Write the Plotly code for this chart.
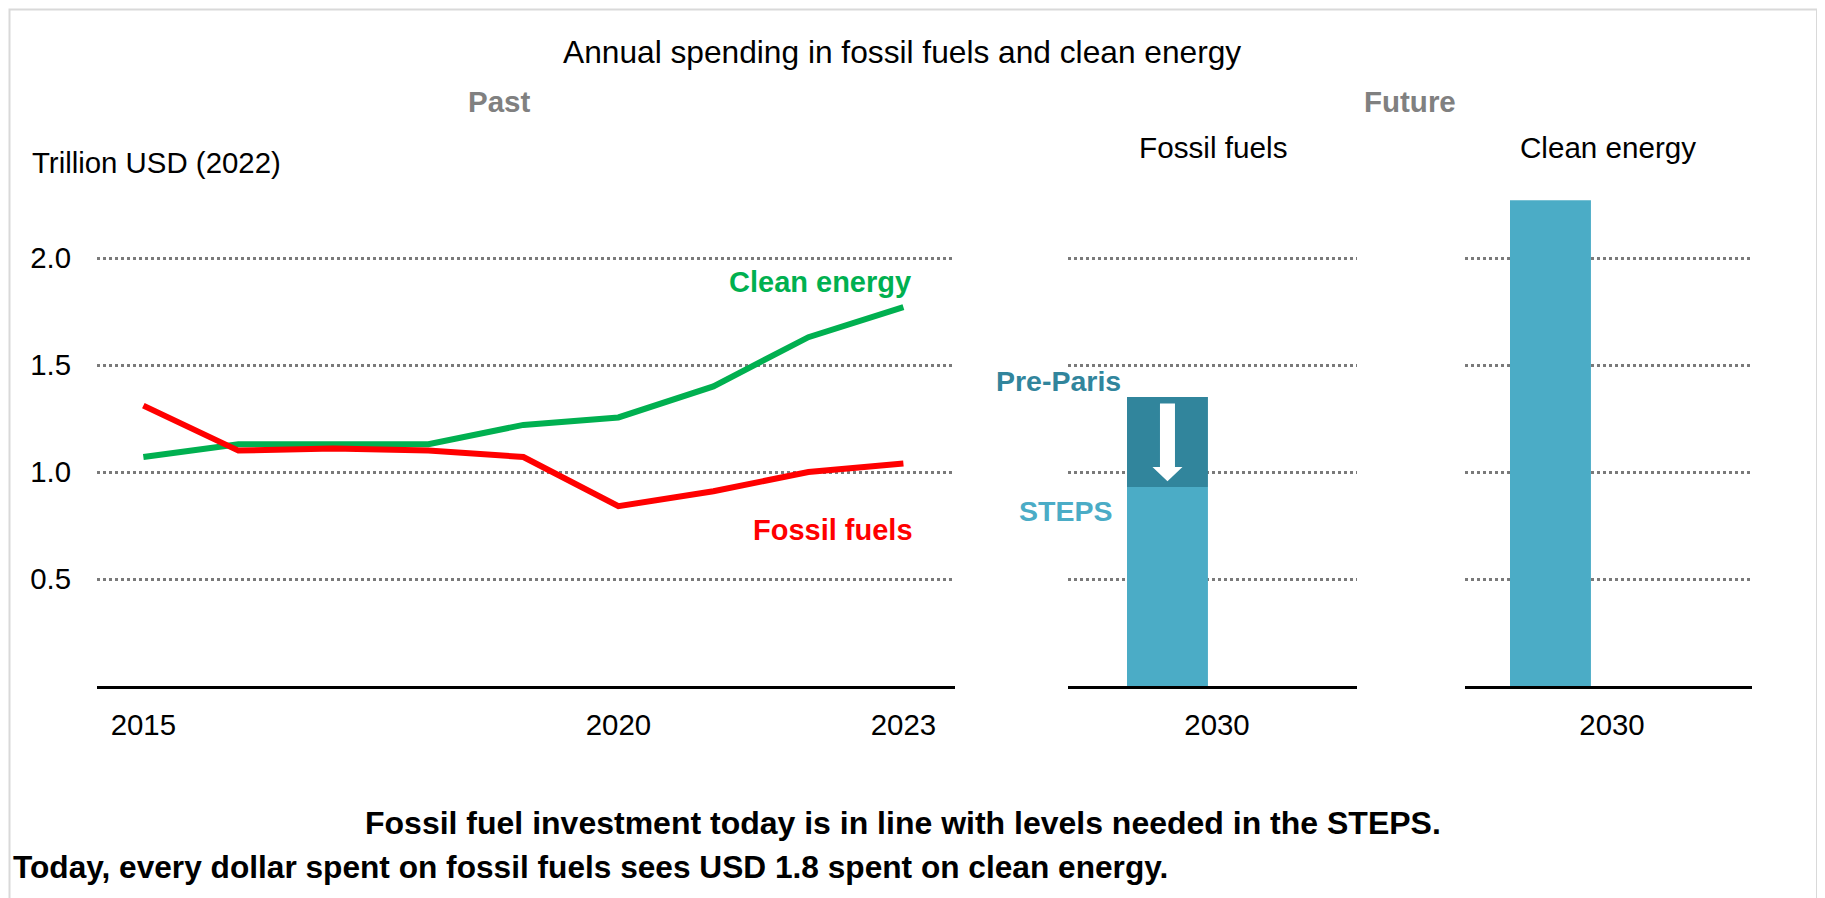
import plotly.graph_objects as go

# ---------------- data ----------------
years = [2015, 2016, 2017, 2018, 2019, 2020, 2021, 2022, 2023]
clean_energy = [1.07, 1.13, 1.13, 1.13, 1.22, 1.255, 1.40, 1.63, 1.77]
fossil_fuels = [1.31, 1.10, 1.11, 1.10, 1.07, 0.84, 0.91, 1.00, 1.04]
past_ticks = [2015, 2020, 2023]

future_year = [2030]
fossil_2030_steps = [0.93]
fossil_2030_pre_paris = [1.35]
clean_2030 = [2.27]

y_ticks = [0.5, 1.0, 1.5, 2.0]
y_tick_text = ["0.5", "1.0", "1.5", "2.0"]

# ---------------- style ----------------
PAGE_OFF = 8          # default body margin of the html page
W, H = 1825 - PAGE_OFF, 898 - PAGE_OFF
FONT = "Liberation Sans, Arial, Helvetica, sans-serif"
GREEN = "#00B050"
RED = "#FF0000"
STEPS_C = "#4BACC6"
PRE_C = "#31859C"
GRID_C = "#7A7A7A"
GRAY_T = "#808080"


def px_x(p):
    return (p - PAGE_OFF) / W


def px_y(p):
    return 1 - (p - PAGE_OFF) / H


y_dom = [px_y(686), px_y(686 - 2.3 * 214.0)]
dom_past = [px_x(97), px_x(955)]
dom_ff = [px_x(1068), px_x(1357)]
dom_ce = [px_x(1465), px_x(1752)]

fig = go.Figure()

# past lines
fig.add_trace(go.Scatter(x=years, y=clean_energy, mode="lines",
                         line=dict(color=GREEN, width=6), xaxis="x", yaxis="y",
                         name="Clean energy", showlegend=False))
fig.add_trace(go.Scatter(x=years, y=fossil_fuels, mode="lines",
                         line=dict(color=RED, width=6), xaxis="x", yaxis="y",
                         name="Fossil fuels", showlegend=False))

# future fossil fuels bar (STEPS + Pre-Paris top)
ff_shift = -4.5 / 289
ff_off, ff_w = -0.3114, 0.280
fig.add_trace(go.Bar(x=future_year, y=fossil_2030_steps, offset=ff_off, width=ff_w,
                     marker=dict(color=STEPS_C, line=dict(width=0)),
                     xaxis="x2", yaxis="y2", name="STEPS", showlegend=False))
pre_delta = [p - s for p, s in zip(fossil_2030_pre_paris, fossil_2030_steps)]
fig.add_trace(go.Bar(x=future_year, y=pre_delta, base=fossil_2030_steps,
                     offset=ff_off, width=ff_w,
                     marker=dict(color=PRE_C, line=dict(width=0)),
                     xaxis="x2", yaxis="y2", name="Pre-Paris", showlegend=False))

# future clean energy bar
ce_shift = -3.5 / 287
ce_off, ce_w = -0.3554, 0.282
fig.add_trace(go.Bar(x=future_year, y=clean_2030, offset=ce_off, width=ce_w,
                     marker=dict(color=STEPS_C, line=dict(width=0)),
                     xaxis="x3", yaxis="y3", name="Clean energy 2030", showlegend=False))

tickfont = dict(family=FONT, size=29.4, color="black")


def yax(**kw):
    d = dict(domain=y_dom, range=[0, 2.3], tickvals=y_ticks, showgrid=True,
             gridcolor=GRID_C, gridwidth=2.5, griddash="dot", zeroline=False,
             showline=False, fixedrange=True)
    d.update(kw)
    return d


def xax(**kw):
    d = dict(showgrid=False, zeroline=False, showline=True, linecolor="black",
             linewidth=2.5, ticks="", tickfont=tickfont, ticklabelstandoff=11,
             fixedrange=True)
    d.update(kw)
    return d


fig.update_layout(
    width=W, height=H, autosize=False,
    margin=dict(l=0, r=0, t=0, b=0),
    paper_bgcolor="white", plot_bgcolor="white",
    barmode="overlay", showlegend=False,
    font=dict(family=FONT, color="black"),
    xaxis=xax(domain=dom_past, range=[2014.512, 2023.543], tickvals=past_ticks,
              ticktext=[str(v) for v in past_ticks], anchor="y"),
    yaxis=yax(anchor="x", ticktext=y_tick_text, showticklabels=True,
              tickfont=tickfont, ticklabelstandoff=25),
    xaxis2=xax(domain=dom_ff,
               range=[future_year[0] - 0.5 + ff_shift, future_year[0] + 0.5 + ff_shift],
               tickvals=future_year, ticktext=[str(v) for v in future_year], anchor="y2"),
    yaxis2=yax(anchor="x2", showticklabels=False),
    xaxis3=xax(domain=dom_ce,
               range=[future_year[0] - 0.5 + ce_shift, future_year[0] + 0.5 + ce_shift],
               tickvals=future_year, ticktext=[str(v) for v in future_year], anchor="y3"),
    yaxis3=yax(anchor="x3", showticklabels=False),
)

# white down arrow on the Pre-Paris segment (derived from bar values)
xc = future_year[0] + ff_off + ff_w / 2
shaft_hw = 7.5 / 289
head_hw = 15 / 289
top = fossil_2030_pre_paris[0] - 0.03
tip = fossil_2030_steps[0] + 0.027
head_start = tip + 0.066
path = (f"M {xc - shaft_hw},{top} L {xc + shaft_hw},{top} L {xc + shaft_hw},{head_start} "
        f"L {xc + head_hw},{head_start} L {xc},{tip} L {xc - head_hw},{head_start} "
        f"L {xc - shaft_hw},{head_start} Z")
fig.add_shape(type="path", path=path, xref="x2", yref="y2",
              fillcolor="white", line=dict(width=0), layer="above")

# light gray frame
fig.add_shape(type="rect", xref="paper", yref="paper",
              x0=px_x(9.5), x1=px_x(1817), y0=-0.05, y1=px_y(9.5),
              line=dict(color="#D9D9D9", width=2), fillcolor="rgba(0,0,0,0)")


def ann(text, x, y, size, color="black", bold=False, xanchor="center", **kw):
    t = f"<b>{text}</b>" if bold else text
    d = dict(text=t, x=x, y=y, xref="paper", yref="paper", showarrow=False,
             xanchor=xanchor, yanchor="middle",
             font=dict(family=FONT, size=size, color=color))
    d.update(kw)
    fig.add_annotation(**d)


ann("Annual spending in fossil fuels and clean energy", px_x(902), px_y(52), 31.7)
ann("Past", px_x(499), px_y(101), 29.5, GRAY_T, bold=True)
ann("Future", px_x(1409.5), px_y(101), 29.5, GRAY_T, bold=True)
ann("Trillion USD (2022)", px_x(30), px_y(163), 29.4, xanchor="left")
ann("Fossil fuels", (dom_ff[0] + dom_ff[1]) / 2, px_y(148), 29.7)
ann("Clean energy", (dom_ce[0] + dom_ce[1]) / 2, px_y(148), 29.6)
ann("Fossil fuel investment today is in line with levels needed in the STEPS.",
    px_x(903), px_y(823), 32.0, bold=True)
ann("Today, every dollar spent on fossil fuels sees USD 1.8 spent on clean energy.",
    px_x(11), px_y(867), 31.65, bold=True, xanchor="left")

# line labels
fig.add_annotation(text="<b>Clean energy</b>", x=years[-1], y=clean_energy[-1] + 0.12,
                   xref="x", yref="y", showarrow=False, xanchor="right", yanchor="middle",
                   xshift=10, font=dict(family=FONT, size=29, color=GREEN))
fig.add_annotation(text="<b>Fossil fuels</b>", x=years[-1], y=fossil_fuels[-1] - 0.31,
                   xref="x", yref="y", showarrow=False, xanchor="right", yanchor="middle",
                   xshift=12, font=dict(family=FONT, size=29, color=RED))

# bar segment labels
fig.add_annotation(text="<b>Pre-Paris</b>", x=future_year[0] + ff_off, y=fossil_2030_pre_paris[0],
                   xref="x2", yref="y2", showarrow=False, xanchor="right", yanchor="bottom",
                   xshift=-4, yshift=-2, font=dict(family=FONT, size=28.5, color=PRE_C))
fig.add_annotation(text="<b>STEPS</b>", x=future_year[0] + ff_off, y=fossil_2030_steps[0],
                   xref="x2", yref="y2", showarrow=False, xanchor="right", yanchor="top",
                   xshift=-13, yshift=-6, font=dict(family=FONT, size=28.5, color=STEPS_C))

fig.write_html("out.html")
